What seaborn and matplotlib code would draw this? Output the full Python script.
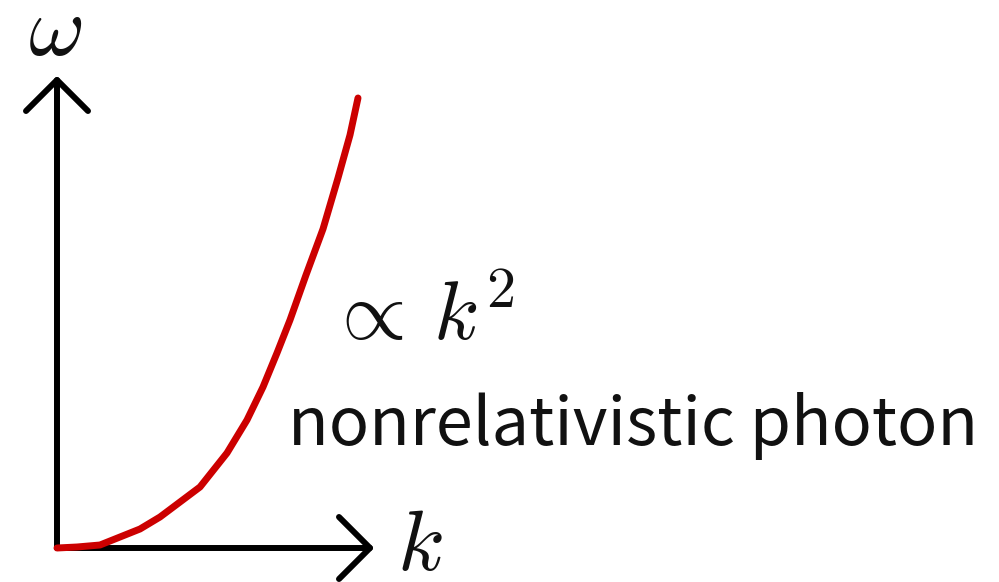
import matplotlib
matplotlib.use("Agg")
import matplotlib.pyplot as plt
import seaborn as sns
import pandas as pd

sns.set_theme(style="white")
plt.rcParams["mathtext.fontset"] = "cm"
plt.rcParams["font.family"] = ["Noto Sans CJK JP", "DejaVu Sans"]

# Dispersion curve omega(k), hand-sketched quadratic-looking shape
k_vals = [0.0, 0.20, 0.43, 0.83, 1.03, 1.43, 1.70, 1.90, 2.06, 2.20, 2.33,
          2.49, 2.66, 2.81, 2.93, 3.01]
w_vals = [0.0, 0.01, 0.03, 0.19, 0.31, 0.61, 0.95, 1.28, 1.61, 1.95, 2.28,
          2.73, 3.19, 3.70, 4.13, 4.50]

axis_k_end = 3.13
axis_w_end = 4.68

label_k = r"$k$"
label_w = r"$\omega$"
label_prop = r"$\propto\,k^2$"
caption = "nonrelativistic photon"

df = pd.DataFrame({"k": k_vals, "omega": w_vals})

fig = plt.figure(figsize=(9.99, 5.82), dpi=100)
ax = fig.add_axes([0, 0, 1, 1])
ax.set_xlim(-0.57, 9.42)
ax.set_ylim(-0.34, 5.48)
ax.axis("off")

sns.lineplot(data=df, x="k", y="omega", ax=ax, color="#cc0000", lw=5.0,
             sort=False, solid_capstyle="round", solid_joinstyle="round", zorder=3)

# axes lines
ax.plot([0, axis_k_end], [0, 0], color="black", lw=4.3,
        solid_capstyle="round", zorder=2)
ax.plot([0, 0], [0, axis_w_end], color="black", lw=4.3,
        solid_capstyle="round", zorder=2)
# open chevron heads
head = 0.31
ax.plot([axis_k_end - head, axis_k_end, axis_k_end - head],
        [head, 0, -head], color="black", lw=4.3,
        solid_capstyle="round", solid_joinstyle="round", zorder=2)
ax.plot([-head, 0, head],
        [axis_w_end - head, axis_w_end, axis_w_end - head], color="black", lw=4.3,
        solid_capstyle="round", solid_joinstyle="round", zorder=2)

ax.text(-0.02, 5.17, label_w, fontsize=62, ha="center", va="center", color="#111111")
ax.text(3.63, 0.02, label_k, fontsize=62, ha="center", va="center", color="#111111")
ax.text(2.70, 2.08, label_prop, fontsize=60, ha="left", va="baseline", color="#111111")
ax.text(2.31, 1.03, caption, fontsize=48, ha="left", va="baseline", color="#111111")

fig.savefig("out.png", dpi=100)
